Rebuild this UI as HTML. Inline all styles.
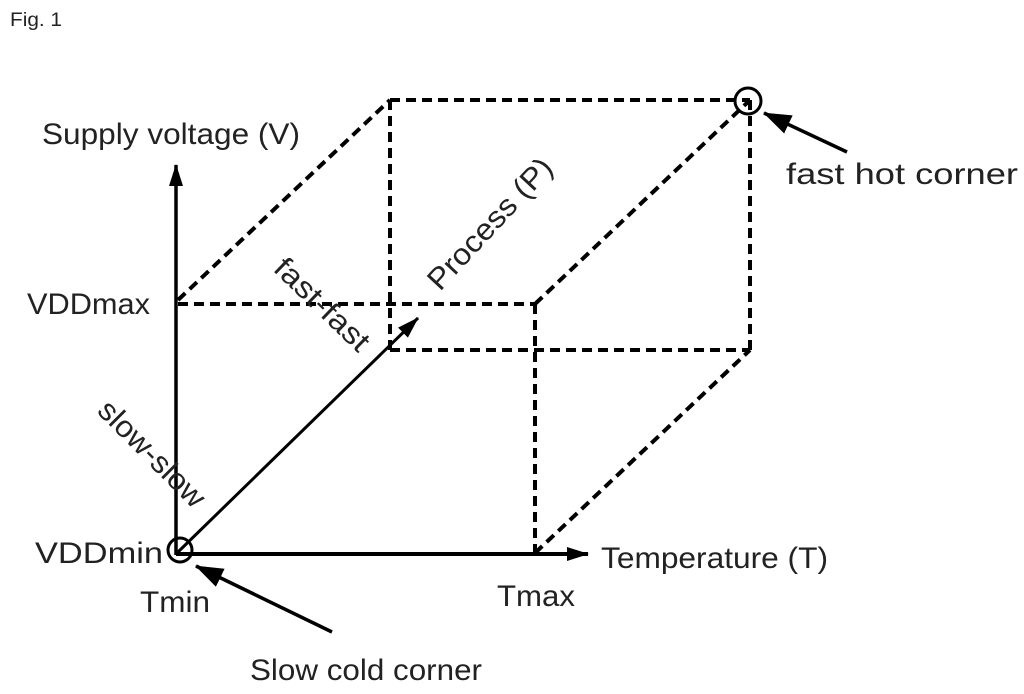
<!DOCTYPE html>
<html><head><style>
html,body{margin:0;padding:0;background:#fff;}
svg{display:block;}
text{font-family:"Liberation Sans",sans-serif;fill:#222;}
</style></head><body>
<svg width="1024" height="694" viewBox="0 0 1024 694" xmlns="http://www.w3.org/2000/svg">
<defs>
<marker id="ah" markerWidth="22" markerHeight="14" refX="21" refY="7" orient="auto" markerUnits="userSpaceOnUse">
<path d="M0,0 L22,7 L0,14 Z" fill="#000"/>
</marker>
<marker id="ah2" markerWidth="28" markerHeight="20" refX="27" refY="10" orient="auto" markerUnits="userSpaceOnUse">
<path d="M0,0 L28,10 L0,20 Z" fill="#000"/>
</marker>
</defs>
<text x="10" y="26" font-size="19" textLength="52" lengthAdjust="spacingAndGlyphs">Fig. 1</text>
<g stroke="#000" stroke-width="4" stroke-dasharray="10,6" fill="none">
<line x1="390" y1="100" x2="750" y2="100"/>
<line x1="390" y1="100" x2="390" y2="350"/>
<line x1="390" y1="350" x2="750" y2="350"/>
<line x1="750" y1="100" x2="750" y2="350"/>
<line x1="178" y1="304" x2="535" y2="304"/>
<line x1="535" y1="304" x2="535" y2="553"/>
<line x1="178" y1="300" x2="390" y2="100"/>
<line x1="535" y1="304" x2="750" y2="100"/>
<line x1="535" y1="553" x2="750" y2="350"/>
</g>
<g stroke="#000" stroke-width="4" fill="none">
<line x1="176" y1="555" x2="176" y2="165" marker-end="url(#ah)" stroke-width="3.5"/>
<line x1="176" y1="554" x2="588" y2="554" marker-end="url(#ah)"/>
<line x1="178" y1="552" x2="418" y2="318" marker-end="url(#ah)" stroke-width="3"/>
<circle cx="748" cy="101" r="13" stroke-width="3"/>
<circle cx="180" cy="550" r="12" stroke-width="3"/>
<line x1="847" y1="152" x2="764" y2="113" stroke-width="3.5" marker-end="url(#ah2)"/>
<line x1="332" y1="632" x2="196" y2="566" stroke-width="3.5" marker-end="url(#ah2)"/>
</g>
<g font-size="30">
<text x="42" y="144" textLength="258" lengthAdjust="spacingAndGlyphs">Supply voltage (V)</text>
<text x="27" y="314" textLength="123" lengthAdjust="spacingAndGlyphs">VDDmax</text>
<text x="35" y="563" textLength="128" lengthAdjust="spacingAndGlyphs">VDDmin</text>
<text x="140" y="612" textLength="70" lengthAdjust="spacingAndGlyphs">Tmin</text>
<text x="497" y="606" textLength="78" lengthAdjust="spacingAndGlyphs">Tmax</text>
<text x="601" y="568" textLength="227" lengthAdjust="spacingAndGlyphs">Temperature (T)</text>
<text x="786" y="184" textLength="232" lengthAdjust="spacingAndGlyphs">fast hot corner</text>
<text x="250" y="680" textLength="232" lengthAdjust="spacingAndGlyphs">Slow cold corner</text>
<text transform="translate(440,292) rotate(-47)" textLength="168" lengthAdjust="spacingAndGlyphs">Process (P)</text>
<text transform="translate(272,270) rotate(44)" textLength="120" lengthAdjust="spacingAndGlyphs">fast-fast</text>
<text transform="translate(96,412) rotate(45)" textLength="138" lengthAdjust="spacingAndGlyphs">slow-slow</text>
</g>
</svg>
</body></html>
